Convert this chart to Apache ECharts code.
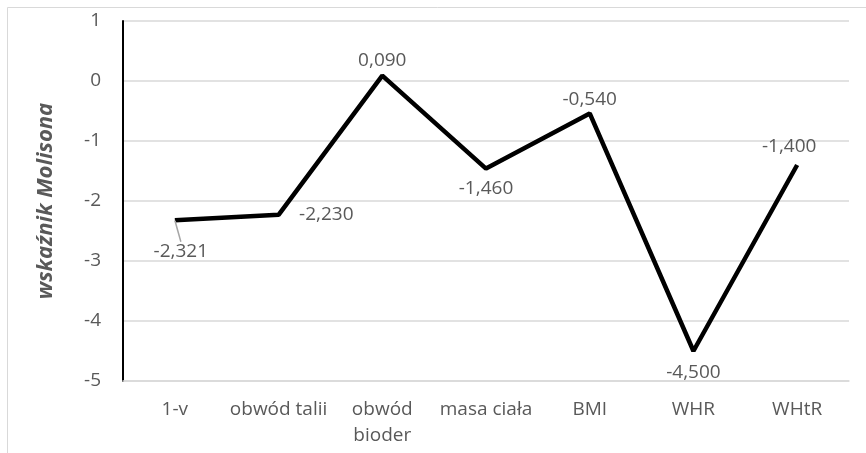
<!DOCTYPE html>
<html>
<head>
<meta charset="utf-8">
<script src="https://cdn.jsdelivr.net/npm/echarts@6/dist/echarts.min.js"></script>
<style>
html,body{margin:0;padding:0;background:#fff;}
#chart{width:866px;height:453px;}
</style>
</head>
<body>
<div id="chart"></div>
<script>
// Wskaźnik Molisona dla poszczególnych cech
const categories = ['1-v', 'obwód talii', 'obwód\nbioder', 'masa ciała', 'BMI', 'WHR', 'WHtR'];
const values = [-2.321, -2.230, 0.090, -1.460, -0.540, -4.500, -1.400];
const yTicks = { min: -5, max: 1, interval: 1 };
const yTitle = 'wskaźnik Molisona';

const FONT = '"Open Sans", sans-serif';
const GRAY = '#595959';

// label placement for each point: [position, distance, dx, dy, leader line]
const labelPlacement = [
  ['bottom', 4, 6, 17, true],
  ['right', 20, 0, 0, false],
  ['top', 5, 0, 0, false],
  ['bottom', 10, 0, 0, false],
  ['top', 4, 0, 0, false],
  ['bottom', 12, 0, 0, false],
  ['top', 8, -8, 0, false]
];

function fmt(v) {
  return v.toFixed(3).replace('.', ',');
}

const seriesData = values.map((v, i) => ({
  value: v,
  label: { position: labelPlacement[i][0], distance: labelPlacement[i][1] },
  labelLine: { show: labelPlacement[i][4] }
}));

const chart = echarts.init(document.getElementById('chart'));
chart.setOption({
  animation: false,
  backgroundColor: '#fff',
  graphic: [{
    type: 'rect',
    shape: { x: 7.5, y: 7.5, width: 900, height: 500 },
    style: { fill: 'none', stroke: '#d9d9d9', lineWidth: 1 },
    z: -1
  }],
  grid: { left: 123, right: 17, top: 21, bottom: 72 },
  xAxis: {
    type: 'category',
    data: categories,
    boundaryGap: true,
    axisLine: { onZero: false, lineStyle: { color: '#d9d9d9', width: 1.5 } },
    axisTick: { show: false },
    axisLabel: {
      color: GRAY, fontFamily: FONT, fontSize: 19, margin: 16, lineHeight: 26,
      interval: 0
    }
  },
  yAxis: {
    type: 'value',
    min: yTicks.min, max: yTicks.max, interval: yTicks.interval,
    name: yTitle,
    nameLocation: 'middle',
    nameGap: 66,
    nameRotate: 90,
    nameTextStyle: {
      color: GRAY, fontFamily: FONT, fontSize: 22, fontWeight: 'bold', fontStyle: 'italic'
    },
    axisLine: { show: true, lineStyle: { color: '#000', width: 2 } },
    axisTick: { show: false },
    axisLabel: { color: GRAY, fontFamily: FONT, fontSize: 19, margin: 22 },
    splitLine: { lineStyle: { color: '#d9d9d9', width: 1.5 } }
  },
  series: [{
    type: 'line',
    data: seriesData,
    symbol: 'circle',
    symbolSize: 1,
    showSymbol: true,
    itemStyle: { color: 'rgba(0,0,0,0)', borderWidth: 0 },
    lineStyle: { color: '#000', width: 4.5 },
    label: {
      show: true,
      color: GRAY, fontFamily: FONT, fontSize: 19,
      formatter: p => fmt(p.value)
    },
    labelLine: { show: false, lineStyle: { color: '#a6a6a6', width: 1.5 } },
    labelLayout: function (params) {
      const p = labelPlacement[params.dataIndex];
      return { dx: p[2], dy: p[3] };
    }
  }]
});
</script>
</body>
</html>
